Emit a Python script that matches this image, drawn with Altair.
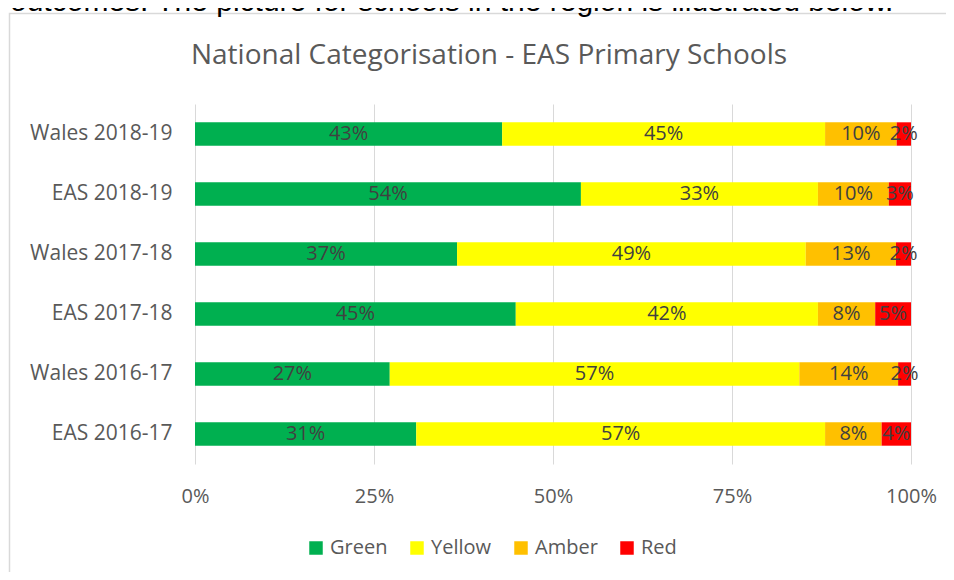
import altair as alt
import pandas as pd

categories = ["Wales 2018-19", "EAS 2018-19", "Wales 2017-18",
              "EAS 2017-18", "Wales 2016-17", "EAS 2016-17"]
series = ["Green", "Yellow", "Amber", "Red"]
green = [42.9, 53.9, 36.6, 44.8, 27.2, 30.9]
yellow = [45.1, 33.1, 48.7, 42.2, 57.2, 57.1]
amber = [10.0, 9.9, 12.6, 8.0, 13.8, 7.9]
red = [2.0, 3.1, 2.1, 5.0, 1.8, 4.1]
colors = ["#00B050", "#FFFF00", "#FFC000", "#FF0000"]
tick_values = [0, 25, 50, 75, 100]
title_text = "National Categorisation - EAS Primary Schools"
caption_text = "outcomes. The picture for schools in the region is illustrated below."

rows = []
for i, c in enumerate(categories):
    for j, (s, vals) in enumerate(zip(series, [green, yellow, amber, red])):
        rows.append({"category": c, "series": s, "order": j, "value": vals[i]})
df = pd.DataFrame(rows)

W, H = 716, 360
FONT = "Open Sans"

base = alt.Chart(df).transform_stack(
    stack="value", as_=["start", "end"], groupby=["category"],
    sort=[alt.SortField("order", order="ascending")]
).transform_calculate(
    mid="(datum.start + datum.end) / 2",
    label="format(datum.value, '.0f') + '%'"
)

xscale = alt.Scale(domain=[0, 100], nice=False)
yenc = alt.Y("category:N", sort=categories,
             scale=alt.Scale(paddingInner=0.61, paddingOuter=0.305),
             axis=alt.Axis(title=None, domain=False, ticks=False, tickSize=0,
                           labelPadding=23, labelFontSize=21, labelColor="#595959",
                           labelFont=FONT, grid=False))

bars = base.mark_bar().encode(
    x=alt.X("start:Q", scale=xscale,
            axis=alt.Axis(values=tick_values, labelExpr="datum.value + '%'",
                          title=None, domain=False, ticks=False, tickSize=0,
                          grid=True, gridColor="#d9d9d9", gridWidth=1,
                          labelFlush=False, labelOverlap=False,
                          labelPadding=22, labelFontSize=20, labelColor="#595959",
                          labelFont=FONT)),
    x2="end:Q",
    y=yenc,
    color=alt.Color("series:N", scale=alt.Scale(domain=series, range=colors),
                    legend=alt.Legend(title=None, orient="none", legendX=111, legendY=434,
                                      direction="horizontal", symbolType="square",
                                      symbolSize=182, symbolStrokeWidth=0,
                                      labelFontSize=20, labelFont=FONT,
                                      labelColor="#595959", labelOffset=4,
                                      columnPadding=19, padding=0)),
    order=alt.Order("order:Q"),
)

labels = base.mark_text(font=FONT, fontSize=20, color="#404040", baseline="middle").encode(
    x=alt.X("mid:Q", scale=xscale),
    y=alt.Y("category:N", sort=categories),
    text="label:N",
)

title_mark = alt.Chart(pd.DataFrame({"t": [title_text]})).mark_text(
    font=FONT, fontSize=28, color="#595959", align="center", baseline="alphabetic"
).encode(text="t:N", x=alt.value(294), y=alt.value(-40))

caption_mark = alt.Chart(pd.DataFrame({"t": [caption_text]})).mark_text(
    font="Liberation Sans", fontSize=30, color="#000000", align="left", baseline="alphabetic"
).encode(text="t:N", x=alt.value(-185), y=alt.value(-93))

border = alt.Chart(pd.DataFrame({"b": [1]})).mark_rect(
    fill="transparent", stroke="#d9d9d9", strokeWidth=1.5
).encode(x=alt.value(-185.5), x2=alt.value(W + 200), y=alt.value(-90.5), y2=alt.value(H + 300))

chart = alt.layer(border, bars, labels, title_mark, caption_mark).properties(
    width=W, height=H,
    autosize=alt.AutoSizeParams(type="none"),
    padding={"left": 187, "top": 96, "right": 35, "bottom": 108},
).configure_view(strokeWidth=0)

chart.save("out.html", embed_options={"renderer": "svg", "actions": False})
